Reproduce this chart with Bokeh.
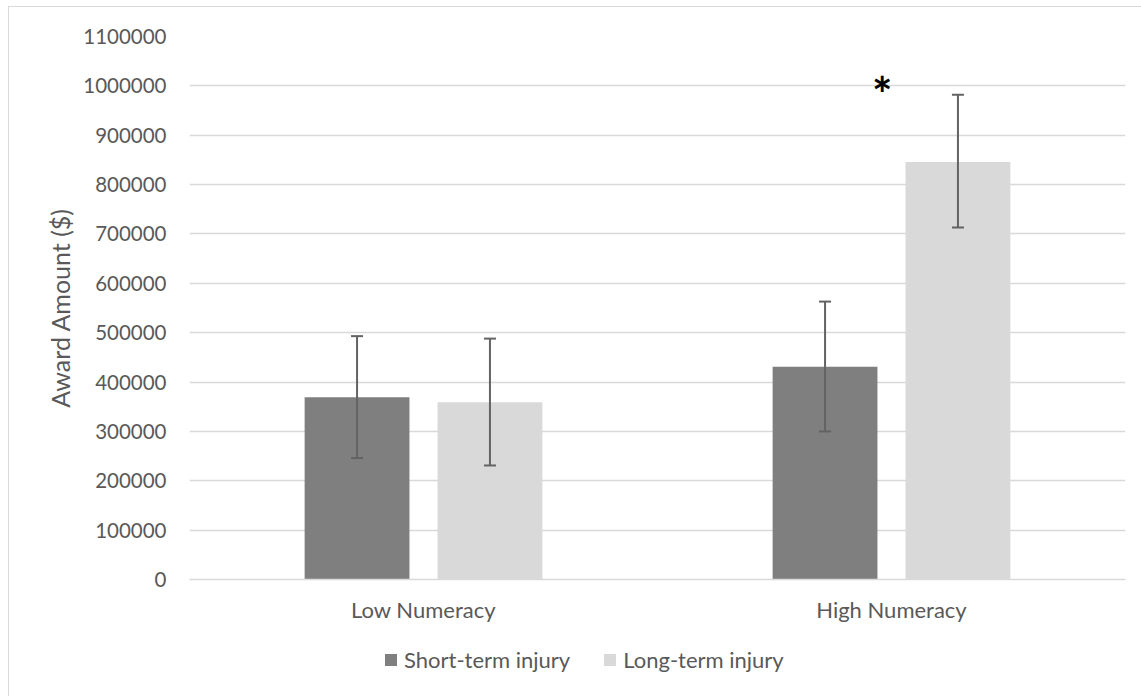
from bokeh.plotting import figure
from bokeh.layouts import column
from bokeh.models import (FactorRange, Range1d, ColumnDataSource, Whisker, TeeHead,
                          Legend, LegendItem, SingleIntervalTicker, NumeralTickFormatter)
from bokeh.transform import dodge
from bokeh.core.properties import value
from bokeh.embed import file_html
from bokeh.resources import INLINE

categories = ["Low Numeracy", "High Numeracy"]
series_names = ["Short-term injury", "Long-term injury"]
short_term = [369000, 431000]
short_lower = [246000, 300000]
short_upper = [493000, 563000]
long_term = [359000, 846000]
long_lower = [231000, 713000]
long_upper = [488000, 982000]
y_ticks_interval = 100000
star_category = ["High Numeracy"]
star_value = [1000000]

FONT = "Lato"
TXT = "#595959"
C_SHORT = "#7f7f7f"
C_LONG = "#d9d9d9"

p = figure(x_range=FactorRange(*categories), y_range=Range1d(0, 1100000),
           width=1132, height=622, output_backend="svg", toolbar_location=None,
           min_border_left=180, min_border_right=16, min_border_top=29,
           min_border_bottom=50)
p.outline_line_color = None

src_s = ColumnDataSource(dict(cat=categories, val=short_term, lo=short_lower, hi=short_upper))
src_l = ColumnDataSource(dict(cat=categories, val=long_term, lo=long_lower, hi=long_upper))

OFF = 0.142
BW = 0.224
p.vbar(x=dodge("cat", -OFF, range=p.x_range), top="val", width=BW, source=src_s,
       fill_color=C_SHORT, line_color=None)
p.vbar(x=dodge("cat", OFF, range=p.x_range), top="val", width=BW, source=src_l,
       fill_color=C_LONG, line_color=None)

for src, off in ((src_s, -OFF), (src_l, OFF)):
    w = Whisker(source=src, base=dodge("cat", off, range=p.x_range), upper="hi", lower="lo",
                line_color="#636363", line_width=2, level="overlay",
                upper_head=TeeHead(size=12, line_color="#636363", line_width=2),
                lower_head=TeeHead(size=12, line_color="#636363", line_width=2))
    p.add_layout(w)

star_src = ColumnDataSource(dict(cat=star_category, y=star_value))
p.text(x=dodge("cat", -0.02, range=p.x_range), y="y", text=value("*"), source=star_src,
       text_font=value(FONT), text_font_style="bold", text_font_size="48px",
       text_color="black", text_align="center", text_baseline="middle", y_offset=8)

# axes
p.yaxis.ticker = SingleIntervalTicker(interval=y_ticks_interval)
p.yaxis.formatter = NumeralTickFormatter(format="0")
p.yaxis.axis_line_color = None
p.yaxis.major_tick_line_color = None
p.yaxis.minor_tick_line_color = None
p.yaxis.major_label_standoff = 17
p.yaxis.major_label_text_font = FONT
p.yaxis.major_label_text_font_size = "20.5px"
p.yaxis.major_label_text_color = TXT
p.yaxis.axis_label = "Award Amount ($)"
p.yaxis.axis_label_text_font = FONT
p.yaxis.axis_label_text_font_size = "25px"
p.yaxis.axis_label_text_font_style = "normal"
p.yaxis.axis_label_text_color = TXT
p.yaxis.axis_label_standoff = 5

p.xaxis.axis_line_color = "#d9d9d9"
p.xaxis.axis_line_width = 1.5
p.xaxis.major_tick_line_color = None
p.xaxis.minor_tick_line_color = None
p.xaxis.major_tick_out = 0
p.xaxis.major_label_standoff = 16
p.xaxis.major_label_text_font = FONT
p.xaxis.major_label_text_font_size = "22px"
p.xaxis.major_label_text_color = TXT

p.xgrid.grid_line_color = None
p.ygrid.grid_line_color = "#d9d9d9"
p.ygrid.grid_line_width = 1.5

# legend strip (frame is aligned with the main plot's frame by the column layout)
p2 = figure(width=1132, height=67, output_backend="svg", toolbar_location=None,
            x_range=Range1d(0, 1), y_range=Range1d(0, 1),
            x_axis_location=None, y_axis_location=None,
            min_border_left=0, min_border_right=0, min_border_top=0, min_border_bottom=0)
p2.outline_line_color = None
p2.grid.visible = False
l_s = p2.vbar(x=[-5], top=[-5], width=0.1, fill_color=C_SHORT, line_color=None)
l_l = p2.vbar(x=[-5], top=[-5], width=0.1, fill_color=C_LONG, line_color=None)
legend = Legend(items=[LegendItem(label=series_names[0], renderers=[l_s]),
                       LegendItem(label=series_names[1], renderers=[l_l])],
                orientation="horizontal", location=(194, 23),
                glyph_width=15, glyph_height=15, label_standoff=6, spacing=32,
                padding=0, margin=0, border_line_color=None, background_fill_alpha=0,
                label_text_font=FONT, label_text_font_size="22px", label_text_color=TXT,
                label_height=20)
p2.add_layout(legend)

layout = column(p, p2, spacing=0)
layout.styles = {"margin-left": "8px", "margin-top": "6px",
                 "border-left": "1px solid #d9d9d9", "border-top": "1px solid #d9d9d9"}

open("out.html", "w").write(file_html(layout, INLINE))
